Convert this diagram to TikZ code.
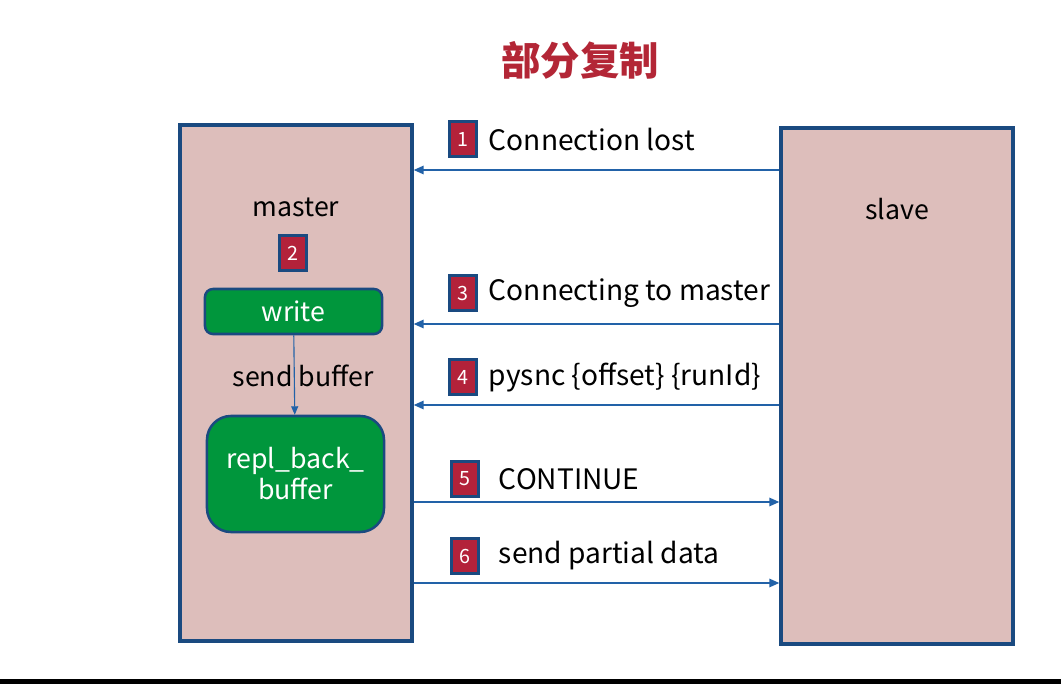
\documentclass[tikz,border=0pt]{standalone}
\usepackage{fontspec}
\setmainfont{Noto Sans CJK SC}
\newfontfamily\cjk{Noto Sans CJK SC}
\usetikzlibrary{arrows.meta}
\definecolor{boxblue}{HTML}{1A4A80}
\definecolor{arrowblue}{HTML}{2262A8}
\definecolor{boxpink}{HTML}{DDBEBB}
\definecolor{boxgreen}{HTML}{00963C}
\definecolor{badgered}{HTML}{B3223A}
\definecolor{titlered}{HTML}{B32636}

\begin{document}
\begin{tikzpicture}[x=0.025cm, y=-0.025cm]
\tikzset{host/.style = {draw=boxblue, line width=2.4pt, fill=boxpink, minimum width=5.8cm, minimum height=12.9cm}}
\tikzset{buf/.style = {draw=boxblue, line width=1.8pt, fill=boxgreen, text=white, minimum width=4.425cm, align=center}}
\tikzset{badge/.style = {draw=boxblue, line width=2.4pt, fill=badgered, text=white, minimum width=0.68cm, minimum height=0.86cm, inner sep=0pt, font=\fontsize{14}{16}\selectfont}}
\tikzset{label/.style = {anchor=west, font=\fontsize{20}{24}\selectfont}}
\tikzset{msg/.style = {draw=arrowblue, line width=1pt, -{Triangle[length=7pt, width=6pt]}}}
\useasboundingbox (0,0) rectangle (1061,684);
\fill[white] (0,0) rectangle (1061,684);
\fill[black] (0,679) rectangle (1061,684);

% title
\node[text=titlered, font=\cjk\bfseries\fontsize{28}{32}\selectfont] (title) at (580,60) {部分复制};

% the two hosts
\node[host] (master) at (296,383) {};
\node[host] (slave) at (897,386) {};
\node[font=\fontsize{19}{22}\selectfont] (mname) at (296,207) {master};
\node[font=\fontsize{19}{22}\selectfont] (sname) at (897,209) {slave};

% inside master
\node[badge] (b2) at (293,253) {2};
\node[buf, minimum height=1.125cm, rounded corners=0.2cm, font=\fontsize{19}{22}\selectfont] (write) at (293.5,311.5) {write};
\node[buf, minimum height=2.9cm, rounded corners=0.6cm, font=\fontsize{19}{22}\selectfont] (repl) at (295.5,474) {repl\_back\_\\buffer};
\draw[msg, line width=0.8pt, -{Triangle[length=6pt, width=5pt]}] (write) -- (repl);
\node[font=\fontsize{19}{22}\selectfont] (sendbuf) at (303,376) {send buffer};

% messages
\node[badge] (b1) at (463,139) {1};
\node[label] (l1) at (484,139) {Connection lost};
\draw[msg] (slave.west |- 0,170) -- (master.east |- 0,170);

\node[badge] (b3) at (463,293) {3};
\node[label] (l3) at (484,293) {Connecting to master};
\draw[msg] (slave.west |- 0,324) -- (master.east |- 0,324);

\node[badge] (b4) at (463,377) {4};
\node[label] (l4) at (484,377) {pysnc \{offset\} \{runId\}};
\draw[msg] (slave.west |- 0,405) -- (master.east |- 0,405);

\node[badge] (b5) at (465,479) {5};
\node[label] (l5) at (494,479) {CONTINUE};
\draw[msg] (master.east |- 0,502) -- (slave.west |- 0,502);

\node[badge] (b6) at (465,556) {6};
\node[label] (l6) at (494,556) {send partial data};
\draw[msg] (master.east |- 0,583) -- (slave.west |- 0,583);
\end{tikzpicture}
\end{document}
